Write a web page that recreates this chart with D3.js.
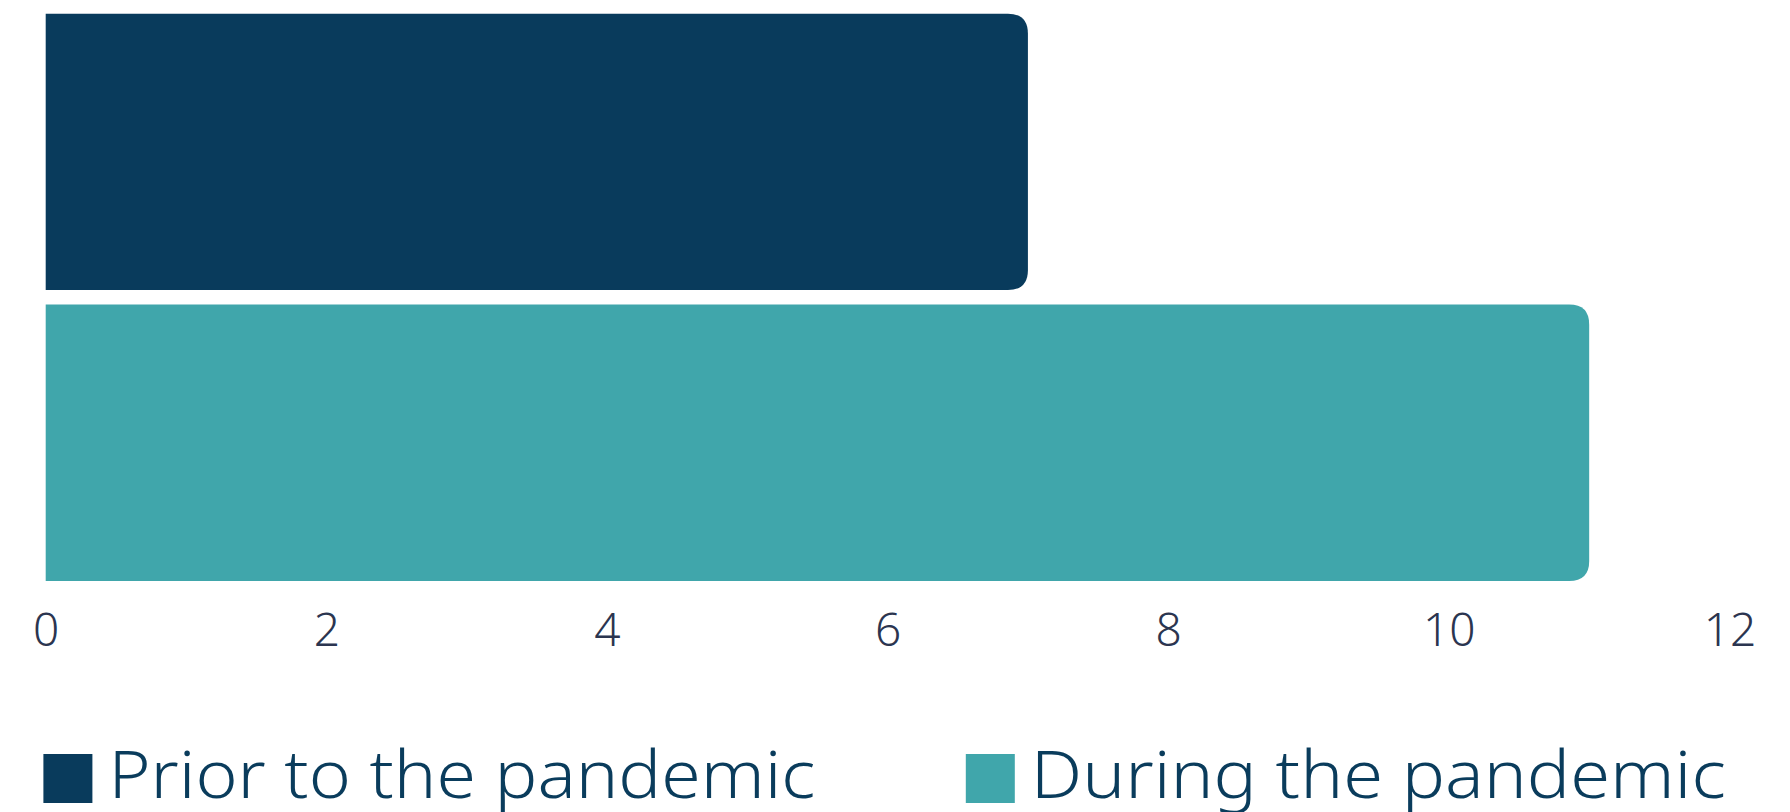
<!DOCTYPE html>
<html><head><meta charset="utf-8">
<script src="https://cdn.jsdelivr.net/npm/d3@7"></script>
<style>
html,body{margin:0;padding:0;background:#fff;}
svg{display:block;}
</style></head>
<body>
<svg id="chart" width="1790" height="812"></svg>
<script>
const categories = ["Prior to the pandemic", "During the pandemic"];
const values = [7, 11];
const colors = ["#093b5c", "#40a6ab"];
const tickValues = [0, 2, 4, 6, 8, 10, 12];

const W = 1790, H = 812;
const svg = d3.select("#chart");
const x = d3.scaleLinear().domain([0, 12]).range([45.7, 1729.5]);
const y = d3.scaleBand().domain(categories).range([13.7, 581]).paddingInner(0.05).paddingOuter(0);
const r = 20;

function barPath(x0, x1, y0, h) {
  const rr = Math.min(r, (x1 - x0), h / 2);
  return `M${x0},${y0}H${x1 - rr}Q${x1},${y0} ${x1},${y0 + rr}V${y0 + h - rr}Q${x1},${y0 + h} ${x1 - rr},${y0 + h}H${x0}Z`;
}

svg.selectAll("path.bar").data(categories).join("path")
  .attr("class", "bar")
  .attr("fill", (d, i) => colors[i])
  .attr("d", (d, i) => barPath(x(0), x(values[i]), y(d), y.bandwidth()));

const axis = d3.axisBottom(x).tickValues(tickValues).tickSize(0).tickPadding(0).tickFormat(d3.format("d"));
const gx = svg.append("g").attr("transform", "translate(0,646)").call(axis);
gx.select(".domain").remove();
gx.selectAll("text")
  .attr("dy", 0)
  .attr("y", 0)
  .attr("font-family", "Noto Sans, sans-serif")
  .attr("font-weight", 300)
  .attr("font-size", 46)
  .attr("fill", "#2b3550");

const legendX = [43.4, 965.8];
const legendTextX = [108.4, 1030.8];
const legendTextW = [707, 695];
const lg = svg.append("g");
categories.forEach((c, i) => {
  lg.append("rect").attr("x", legendX[i]).attr("y", 754).attr("width", 49).attr("height", 49).attr("fill", colors[i]);
  lg.append("text").attr("x", legendTextX[i]).attr("y", 798)
    .attr("font-family", "Noto Sans, sans-serif")
    .attr("font-weight", 300)
    .attr("font-size", 66)
    .attr("fill", "#0a3c5c")
    .attr("textLength", legendTextW[i])
    .attr("lengthAdjust", "spacingAndGlyphs")
    .text(c);
});
</script>
</body></html>
